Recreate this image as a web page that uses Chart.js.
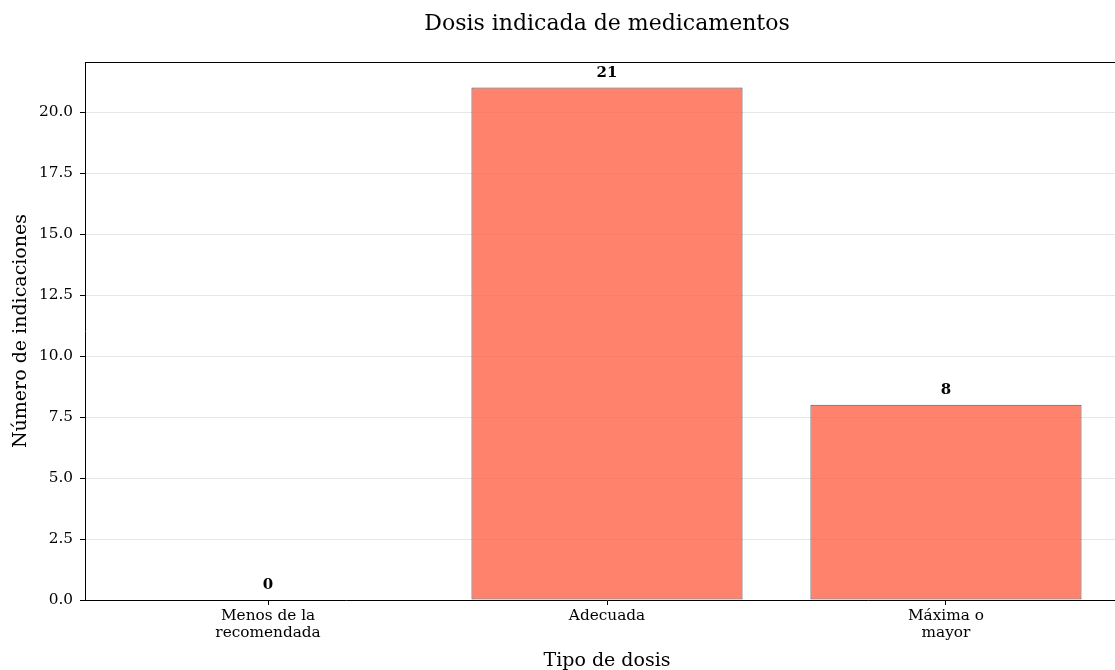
<!DOCTYPE html>
<html>
<head>
<meta charset="utf-8">
<script src="https://cdn.jsdelivr.net/npm/chart.js@4.4.0/dist/chart.umd.min.js"></script>
<style>
html,body{margin:0;padding:0;background:#fff;overflow:hidden;width:1115px;height:670px;}
#wrap{width:1131px;height:670px;position:relative;}
</style>
</head>
<body>
<div id="wrap"><canvas id="c" width="1131" height="670"></canvas></div>
<script>
const categories = [["Menos de la","recomendada"],["Adecuada"],["Máxima o","mayor"]];
const values = [0, 21, 8];
const yTicks = [0, 2.5, 5, 7.5, 10, 12.5, 15, 17.5, 20];
const titleText = "Dosis indicada de medicamentos";
const xTitle = "Tipo de dosis";
const yTitle = "Número de indicaciones";

const FONT = "'DejaVu Serif', serif";

const overlay = {
  id: 'overlay',
  afterDatasetsDraw(chart) {
    const ctx = chart.ctx;
    const a = chart.chartArea;
    ctx.save();
    ctx.strokeStyle = '#000';
    ctx.lineWidth = 1;
    ctx.beginPath();
    ctx.moveTo(a.left, a.top + 0.5);
    ctx.lineTo(a.right, a.top + 0.5);
    ctx.stroke();
    // value labels
    const meta = chart.getDatasetMeta(0);
    ctx.fillStyle = '#000';
    ctx.font = "bold 15px " + FONT;
    ctx.textAlign = 'center';
    ctx.textBaseline = 'alphabetic';
    meta.data.forEach((bar, i) => {
      ctx.fillText(String(values[i]), bar.x, bar.y - 11);
    });
    // titles
    const cx = (a.left + a.right) / 2;
    ctx.font = "22px " + FONT;
    ctx.fillText(titleText, cx, 30);
    ctx.font = "19px " + FONT;
    ctx.fillText(xTitle, cx, 666);
    ctx.save();
    ctx.translate(26, (a.top + a.bottom) / 2);
    ctx.rotate(-Math.PI / 2);
    ctx.fillText(yTitle, 0, 0);
    ctx.restore();
    ctx.restore();
  }
};

new Chart(document.getElementById('c'), {
  type: 'bar',
  data: {
    datasets: [{
      data: values.map((v, i) => ({x: i, y: v})),
      backgroundColor: 'rgba(255,99,71,0.8)',
      borderColor: '#5a5a5a',
      borderWidth: 1,
      borderSkipped: false,
      barPercentage: 0.8,
      categoryPercentage: 1.0
    }]
  },
  options: {
    responsive: false,
    animation: false,
    layout: {padding: {left: 0, right: 2, top: 62, bottom: 0}},
    plugins: {
      legend: {display: false},
      tooltip: {enabled: false},
      title: {display: false}
    },
    scales: {
      x: {
        type: 'linear', min: -0.54, max: 2.54, offset: false,
        afterBuildTicks(s) { s.ticks = categories.map((c, i) => ({value: i})); },
        afterFit(s) { s.height = 70; },
        ticks: {
          color: '#000', font: {family: FONT, size: 15.3, lineHeight: 1.15}, padding: 2,
          maxRotation: 0, autoSkip: false,
          callback: (v) => categories[v]
        },
        grid: {drawOnChartArea: false, offset: false, tickLength: 5, tickColor: '#000'},
        border: {display: true, color: '#000', width: 1}
      },
      y: {
        min: 0, max: 22.05,
        afterBuildTicks(s) { s.ticks = yTicks.map(v => ({value: v})); },
        afterFit(s) { s.width = 85; },
        ticks: {
          color: '#000', font: {family: FONT, size: 15.3}, padding: 7,
          callback: (v) => Number(v).toFixed(1)
        },
        grid: {color: '#e6e6e6', lineWidth: 1, tickLength: 5, tickColor: '#000'},
        border: {display: true, color: '#000', width: 1}
      }
    }
  },
  plugins: [overlay]
});
</script>
</body>
</html>
